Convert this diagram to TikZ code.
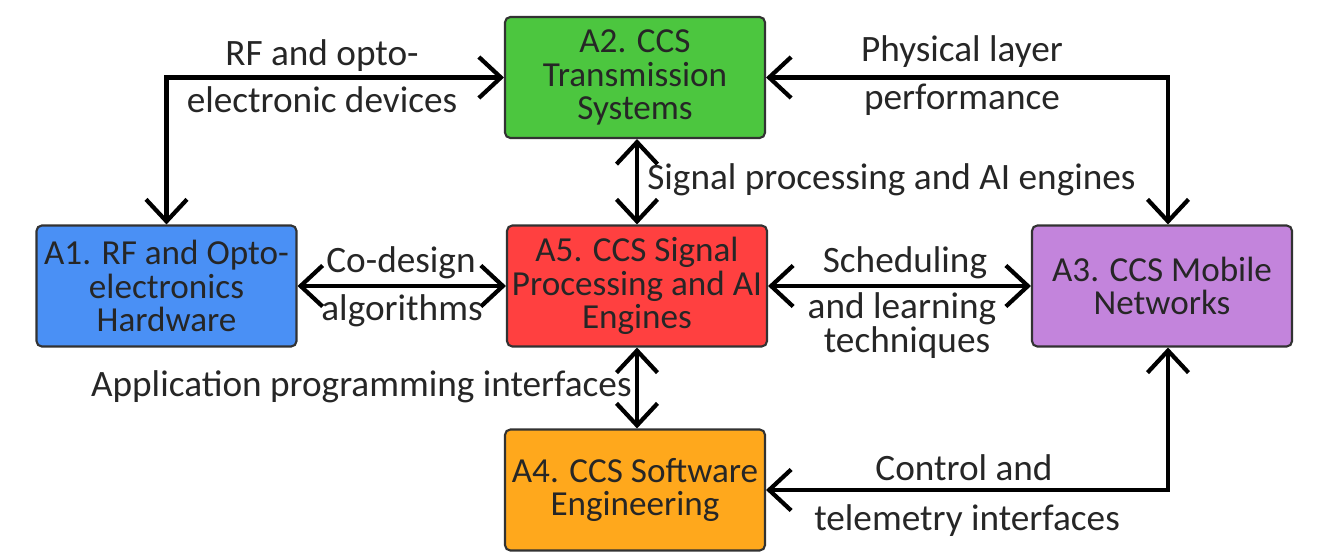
\documentclass[tikz,border=0pt]{standalone}
\usepackage{fontspec}
\setmainfont{Carlito}
\usetikzlibrary{arrows.meta,calc}
\definecolor{cgreen}{RGB}{76,198,63}
\definecolor{cblue}{RGB}{74,144,245}
\definecolor{cred}{RGB}{255,64,64}
\definecolor{cpurple}{RGB}{195,132,220}
\definecolor{corange}{RGB}{255,168,28}
\definecolor{cborder}{RGB}{50,50,50}
\begin{document}
\begin{tikzpicture}[x=0.02cm,y=-0.02cm,
  every node/.style={text=black!85},
  box/.style={draw=cborder, line width=1.2pt, rounded corners=3pt, font=\fontsize{20}{19}\selectfont,
    minimum width=5.2cm, minimum height=2.42cm, align=center, inner sep=0pt},
  arr/.style={line width=2.6pt, {Straight Barb[length=0.44cm,width=0.82cm,line width=2.4pt]}-{Straight Barb[length=0.44cm,width=0.82cm,line width=2.4pt]}},
  lbl/.style={anchor=base, inner sep=0pt, font=\fontsize{21.2}{21}\selectfont}]
\useasboundingbox (0,0) rectangle (1331,557);
\node[box, fill=cgreen] (a2) at (635,77.5) {A2. CCS\\Transmission\\Systems};
\node[box, fill=cblue] (a1) at (166.5,286) {A1. RF and Opto-\\electronics\\Hardware};
\node[box, fill=cred] (a5) at (637,286) {A5. CCS Signal\\Processing and AI\\Engines};
\node[box, fill=cpurple] (a3) at (1162,286) {A3. CCS Mobile\\Networks};
\node[box, fill=corange] (a4) at (635,490) {A4. CCS Software\\Engineering};

\draw[arr] (a1.north) |- (a2.west);
\draw[arr] (a2.east) -| ($(a3.north)+(6,0)$);
\draw[arr] (a2.south -| a5.north) -- (a5.north);
\draw[arr] (a1.east) -- (a5.west);
\draw[arr] (a5.east) -- (a3.west);
\draw[arr] (a5.south) -- (a4.north -| a5.south);
\draw[arr] (a4.east) -| ($(a3.south)+(6,0)$);

\node[lbl] (l1) at (322,66) {RF and opto-};
\node[lbl] (l2) at (322,113) {electronic devices};
\node[lbl] (l3) at (962,62) {Physical layer};
\node[lbl] (l4) at (962,110) {performance};
\node[lbl, anchor=base west] (l5) at (647,190) {Signal processing and AI engines};
\node[lbl] (l6) at (401,272) {Co-design};
\node[lbl] (l7) at (402,320) {algorithms};
\node[lbl] (l8) at (905,272) {Scheduling};
\node[lbl] (l9) at (902,318) {and learning};
\node[lbl] (l10) at (907,352) {techniques};
\node[lbl, anchor=base east] (l11) at (632,396) {Application programming interfaces};
\node[lbl] (l12) at (964,480) {Control and};
\node[lbl] (l13) at (967,530) {telemetry interfaces};
\end{tikzpicture}
\end{document}
